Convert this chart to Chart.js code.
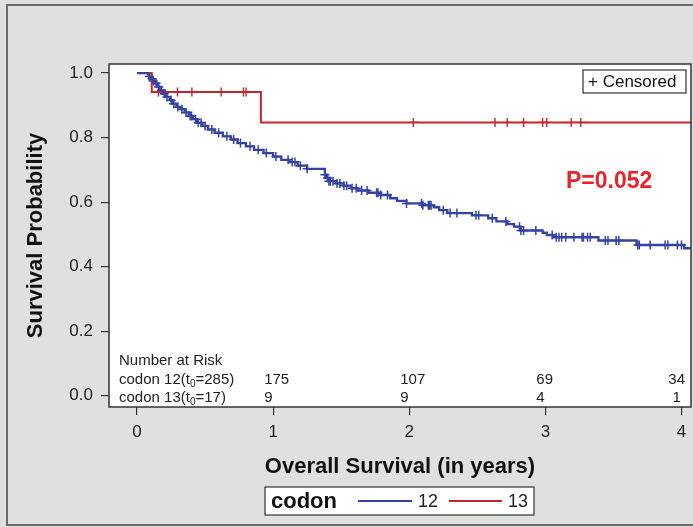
<!DOCTYPE html>
<html>
<head>
<meta charset="utf-8">
<script src="https://cdn.jsdelivr.net/npm/chart.js@4.4.1/dist/chart.umd.min.js"></script>
<style>
  html, body { margin: 0; padding: 0; background: #dfe1df; }
  #wrap { width: 693px; height: 527px; position: relative; }
</style>
</head>
<body>
<div id="wrap"><canvas id="km" width="693" height="527"></canvas></div>
<script>
// Kaplan-Meier curves (time in years, survival after each drop)
let blueTimes = [0, 0.08, 0.09, 0.10, 0.12, 0.13, 0.15, 0.17, 0.19, 0.21, 0.24, 0.26, 0.29, 0.32, 0.35, 0.38, 0.41, 0.44, 0.48, 0.52, 0.57, 0.63, 0.69, 0.74, 0.80, 0.86, 0.93, 1.00, 1.06, 1.12, 1.18, 1.25, 1.38, 1.39, 1.41, 1.46, 1.52, 1.57, 1.62, 1.70, 1.79, 1.86, 1.91, 1.98, 2.10, 2.18, 2.22, 2.28, 2.46, 2.58, 2.64, 2.72, 2.77, 2.82, 2.98, 3.01, 3.06, 3.39, 3.67, 4.02, 4.10];
let blueSurv  = [1, 0.996, 0.989, 0.982, 0.975, 0.968, 0.957, 0.947, 0.936, 0.926, 0.916, 0.905, 0.895, 0.888, 0.878, 0.867, 0.857, 0.846, 0.836, 0.825, 0.815, 0.804, 0.794, 0.783, 0.773, 0.762, 0.752, 0.741, 0.731, 0.724, 0.713, 0.703, 0.685, 0.675, 0.665, 0.658, 0.651, 0.643, 0.636, 0.629, 0.622, 0.612, 0.604, 0.596, 0.590, 0.584, 0.575, 0.566, 0.559, 0.550, 0.540, 0.532, 0.524, 0.512, 0.505, 0.498, 0.491, 0.481, 0.467, 0.457, 0.457];
let blueCensor = [0.09, 0.11, 0.12, 0.14, 0.16, 0.18, 0.20, 0.22, 0.25, 0.27, 0.30, 0.33, 0.36, 0.39, 0.40, 0.43, 0.45, 0.47, 0.50, 0.55, 0.60, 0.66, 0.71, 0.76, 0.83, 0.89, 0.95, 1.02, 1.11, 1.14, 1.16, 1.20, 1.25, 1.38, 1.40, 1.41, 1.42, 1.44, 1.47, 1.49, 1.52, 1.54, 1.58, 1.61, 1.65, 1.69, 1.76, 1.77, 1.79, 1.84, 1.98, 2.09, 2.10, 2.14, 2.15, 2.16, 2.25, 2.30, 2.35, 2.49, 2.51, 2.61, 2.71, 2.81, 2.82, 2.84, 2.93, 3.05, 3.08, 3.10, 3.12, 3.15, 3.21, 3.27, 3.28, 3.31, 3.33, 3.44, 3.46, 3.52, 3.54, 3.68, 3.69, 3.77, 3.88, 3.90, 3.97, 4.00];

let redTimes = [0, 0.108, 0.91, 4.10];
let redSurv  = [1, 0.941, 0.847, 0.847];
let redCensor = [0.157, 0.297, 0.403, 0.618, 0.782, 0.801, 2.03, 2.63, 2.72, 2.84, 2.98, 3.01, 3.19, 3.26];

let xTicks = [0, 1, 2, 3, 4];
let yTicks = [0, 0.2, 0.4, 0.6, 0.8, 1.0];

let riskYears = [1, 2, 3, 4];
let risk12 = [175, 107, 69, 34];
let risk13 = [9, 9, 4, 1];

let blueColor = "#3443a1";
let redColor = "#c1272d";
let fontName = "'Liberation Sans', Arial, sans-serif";

function survAt(times, surv, t)
{
    let s = surv[0];
    for (let i = 0; i < times.length; i++) {
        if (times[i] <= t) s = surv[i];
    }
    return s;
}

function curve(times, surv)
{
    return times.map((t, i) => ({ x: t, y: surv[i] }));
}

function marks(cens, times, surv)
{
    return cens.map(t => ({ x: t, y: survAt(times, surv, t) }));
}

// draw "codon 12(t0=285)" with a subscript 0
function drawRowLabel(ctx, x, y, group, n)
{
    ctx.font = "15px " + fontName;
    let a = "codon " + group + "(t";
    ctx.fillText(a, x, y);
    x += ctx.measureText(a).width;
    ctx.font = "10px " + fontName;
    ctx.fillText("0", x, y + 4);
    x += ctx.measureText("0").width;
    ctx.font = "15px " + fontName;
    ctx.fillText("=" + n + ")", x, y);
}

let decor = {
    id: "decor",
    beforeDraw(chart)
    {
        let ctx = chart.ctx;
        let a = chart.chartArea;
        ctx.save();
        ctx.fillStyle = "#dfe1df";
        ctx.fillRect(0, 0, chart.width, chart.height);
        ctx.strokeStyle = "#6b6b6b";
        ctx.lineWidth = 2;
        ctx.strokeRect(7, 5, chart.width + 10, chart.height - 7);
        ctx.fillStyle = "#ffffff";
        ctx.fillRect(a.left, a.top, a.right - a.left, a.bottom - a.top);
        ctx.restore();
    },
    afterDraw(chart)
    {
        let ctx = chart.ctx;
        let a = chart.chartArea;
        let xs = chart.scales.x;
        ctx.save();

        // plot frame
        ctx.strokeStyle = "#333333";
        ctx.lineWidth = 1.5;
        ctx.strokeRect(a.left, a.top, a.right - a.left, a.bottom - a.top);

        // number at risk table
        ctx.fillStyle = "#222222";
        ctx.textBaseline = "middle";
        ctx.textAlign = "left";
        ctx.font = "15px " + fontName;
        ctx.fillText("Number at Risk", 119, 361);
        drawRowLabel(ctx, 119, 380, 12, 285);
        drawRowLabel(ctx, 119, 398, 13, 17);
        ctx.font = "15px " + fontName;
        riskYears.forEach((yr, i) => {
            [[risk12[i], 380], [risk13[i], 398]].forEach(([v, yy]) => {
                let w = ctx.measureText(String(v)).width;
                let x = Math.min(xs.getPixelForValue(yr) - 9, a.right - 6 - w);
                ctx.fillText(String(v), x, yy);
            });
        });

        // p value
        ctx.fillStyle = "#e8232a";
        ctx.font = "bold 23px " + fontName;
        ctx.fillText("P=0.052", 566, 182);

        // censored box
        ctx.fillStyle = "#ffffff";
        ctx.fillRect(583, 70, 103, 23);
        ctx.strokeStyle = "#333333";
        ctx.lineWidth = 1.2;
        ctx.strokeRect(583, 70, 103, 23);
        ctx.fillStyle = "#111111";
        ctx.font = "17px " + fontName;
        ctx.fillText("+ Censored", 588, 82);

        // bottom legend
        ctx.fillStyle = "#ffffff";
        ctx.fillRect(265, 487, 269, 28);
        ctx.strokeStyle = "#333333";
        ctx.strokeRect(265, 487, 269, 28);
        ctx.fillStyle = "#111111";
        ctx.font = "bold 22px " + fontName;
        ctx.fillText("codon", 271, 502);
        ctx.lineWidth = 2;
        ctx.strokeStyle = blueColor;
        ctx.beginPath(); ctx.moveTo(358, 501); ctx.lineTo(412, 501); ctx.stroke();
        ctx.strokeStyle = redColor;
        ctx.beginPath(); ctx.moveTo(449, 501); ctx.lineTo(502, 501); ctx.stroke();
        ctx.fillStyle = "#222222";
        ctx.font = "18px " + fontName;
        ctx.fillText("12", 418, 502);
        ctx.fillText("13", 508, 502);

        ctx.restore();
    }
};

let ctx = document.getElementById("km");
let kmChart = new Chart(ctx,
{
    type: "scatter",
    data: {
        datasets: [
            { label: "12", data: curve(blueTimes, blueSurv), showLine: true, stepped: true, borderColor: blueColor, borderWidth: 2.3, pointRadius: 0 },
            { label: "13", data: curve(redTimes, redSurv), showLine: true, stepped: true, borderColor: redColor, borderWidth: 2, pointRadius: 0 },
            { label: "c12", data: marks(blueCensor, blueTimes, blueSurv), pointStyle: "cross", pointRadius: 4.5, borderColor: blueColor, borderWidth: 1.5 },
            { label: "c13", data: marks(redCensor, redTimes, redSurv), pointStyle: "cross", pointRadius: 4.5, borderColor: redColor, borderWidth: 1.4 }
        ]
    },
    options: {
        responsive: false,
        animation: false,
        events: [],
        layout: { autoPadding: false, padding: { left: 8, top: 64, right: 2, bottom: 47 } },
        plugins: { legend: { display: false }, tooltip: { enabled: false } },
        scales: {
            x: {
                type: "linear", min: -0.206, max: 4.07,
                afterBuildTicks: s => { s.ticks = xTicks.map(v => ({ value: v })); },
                afterFit: s => { s.height = 73; s.paddingRight = 0; },
                ticks: { color: "#222", font: { family: fontName, size: 17 }, padding: 7, maxRotation: 0 },
                grid: { drawOnChartArea: false, drawTicks: true, tickLength: 8, color: "#333", lineWidth: 1.2 },
                border: { display: false },
                title: { display: true, text: "Overall Survival (in years)", color: "#111", font: { family: fontName, size: 22, weight: "bold" }, padding: { top: 4, bottom: 0 } }
            },
            y: {
                type: "linear", min: -0.035, max: 1.028,
                afterBuildTicks: s => { s.ticks = yTicks.map(v => ({ value: v })); },
                afterFit: s => { s.width = 101; },
                ticks: { color: "#222", font: { family: fontName, size: 17 }, padding: 8, callback: v => v.toFixed(1) },
                grid: { drawOnChartArea: false, drawTicks: true, tickLength: 8, color: "#333", lineWidth: 1.2 },
                border: { display: false },
                title: { display: true, text: "Survival Probability", color: "#111", font: { family: fontName, size: 22, weight: "bold" }, padding: { top: 15, bottom: 0 } }
            }
        }
    },
    plugins: [decor]
});
</script>
</body>
</html>
